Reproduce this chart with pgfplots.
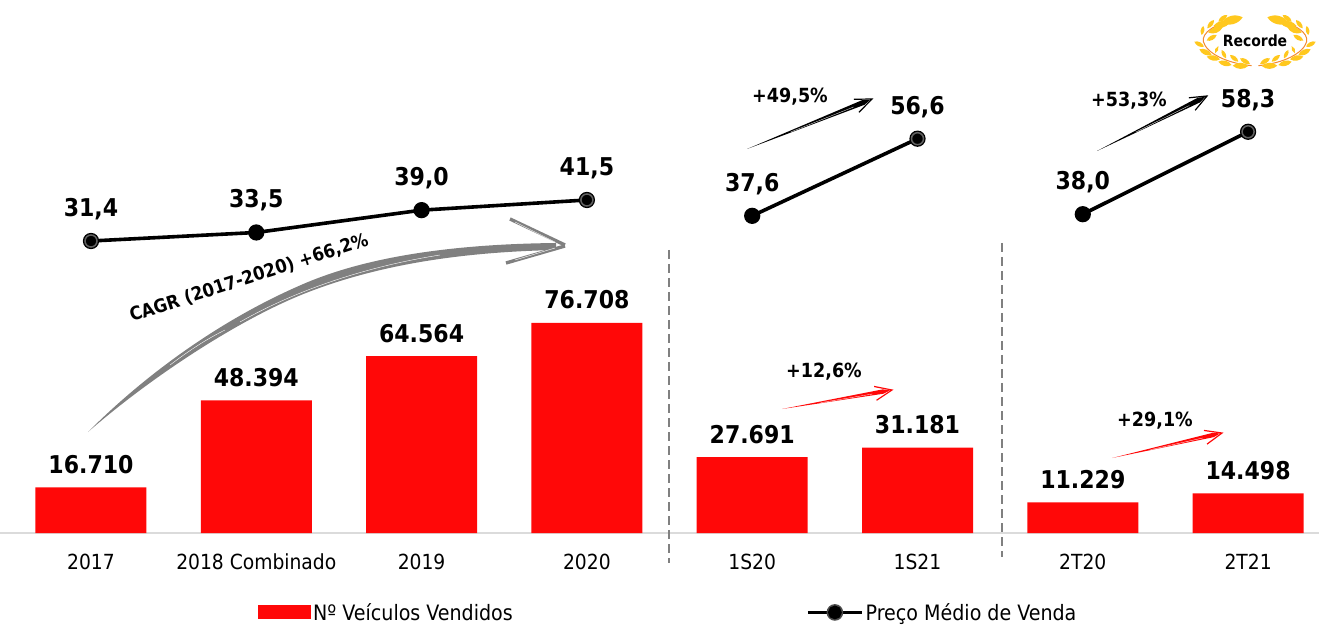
\documentclass[border=0pt]{standalone}
\usepackage{fontspec}
\setmainfont{DejaVu Sans Condensed}
\usepackage{pgfplots}
\pgfplotsset{compat=1.18}
\definecolor{barred}{HTML}{FF0808}
\definecolor{gold}{HTML}{FFC81E}
\definecolor{stem}{HTML}{F28A30}

% thin brush-like arrow, coordinates in reference pixels
\newcommand{\brusharrow}[6]{%
  \pgfmathsetmacro{\ang}{atan2(#3-#5,#4-#2)}%
  \pgfmathsetmacro{\len}{veclen(#4-#2,#5-#3)}%
  \begin{scope}[shift={(#2,#3)},rotate=\ang]
    \fill[#1] (0,0) -- (\len-9,-#6) -- (\len-2,0) -- (\len-9,#6) -- cycle;
    \draw[white,line width=0.3pt] (\len*0.35,0.4) -- (\len-20,0.6);
    \draw[#1,line width=1.2pt] (\len-17,-6.5) -- (\len,0) -- (\len-17,7.5);
  \end{scope}}

\newcommand{\leaf}[4]{\fill[gold] (#1,#2) to[bend left=42] (#3,#4) to[bend left=42] (#1,#2);}
\newcommand{\laurel}{%
  \draw[stem,line width=1pt] (305,197) .. controls (230,190) and (170,160) .. (160,125)
     .. controls (155,100) and (190,70) .. (265,60);
  \leaf{205}{65}{232}{45}\leaf{215}{68}{278}{52}\leaf{172}{85}{192}{60}
  \leaf{190}{78}{240}{68}\leaf{155}{105}{160}{78}\leaf{175}{98}{218}{82}
  \leaf{133}{125}{162}{140}\leaf{170}{122}{200}{105}\leaf{148}{148}{185}{165}
  \leaf{195}{160}{205}{138}\leaf{170}{170}{210}{178}\leaf{215}{150}{228}{175}
  \leaf{205}{185}{245}{195}\leaf{240}{165}{265}{185}\leaf{248}{197}{295}{198}
  \leaf{270}{175}{300}{192}}

\begin{document}
\begin{tikzpicture}
\useasboundingbox (0,-91pt) rectangle (1319pt,533pt);

% sold vehicles, bars
\begin{axis}[
    at={(0,0)},anchor=south west,
    scale only axis,
    width=1319pt,
    height=533pt,
    clip=false,
    ybar,
    bar width=111pt,
    xmin=-0.5505,xmax=7.4289,
    ymin=0,ymax=194668,
    axis x line=bottom,
    axis y line=none,
    x axis line style={draw=black!14,line width=2.2pt,-},
    xtick={0,...,7},
    xticklabels={2017,2018 Combinado,2019,2020,1S20,1S21,2T20,2T21},
    major tick length=0pt,
    xticklabel style={font=\fontsize{20.8}{22}\selectfont,anchor=center,yshift=-29pt},
    point meta=y,
    nodes near coords,
    every node near coord/.append style={font=\fontsize{24.5}{26}\selectfont\bfseries,anchor=center,yshift=23pt,text=black},
    /pgf/number format/.cd,assume math mode=true,fixed,precision=0,1000 sep={.},
    /pgfplots/.cd,
    legend style={at={(0.1956,-0.149)},anchor=west,draw=none,fill=none,inner sep=0pt,
      font=\fontsize{21.2}{23}\selectfont},
    legend image code/.code={\fill[barred] (0pt,-7pt) rectangle (53pt,7pt);},
    legend cell align=left,
]
\addplot[fill=barred,draw=none] coordinates {(0,16710) (1,48394) (2,64564) (3,76708) (4,27691) (5,31181) (6,11229) (7,14498)};
\legend{Nº Veículos Vendidos}
\end{axis}

% average sale price, lines
\begin{axis}[
    at={(0,0)},anchor=south west,
    scale only axis,
    width=1319pt,
    height=533pt,
    clip=false,
    hide axis,
    xmin=-0.5505,xmax=7.4289,
    ymin=-40.52,ymax=90.76,
    point meta=y,
    every node near coord/.append style={font=\fontsize{24.5}{26}\selectfont\bfseries,anchor=center,yshift=32pt,text=black},
    /pgf/number format/.cd,assume math mode=true,fixed,fixed zerofill,precision=1,use comma,
    /pgfplots/.cd,
    legend style={at={(0.611,-0.149)},anchor=west,draw=none,fill=none,inner sep=0pt,
      font=\fontsize{21.2}{23}\selectfont},
    legend image code/.code={
      \draw[black,line width=3.6pt] (0pt,0pt) -- (54pt,0pt);
      \fill[black!70] (27pt,0pt) circle (6.5pt);
      \fill[black] (27pt,0pt) circle (5pt);},
    legend cell align=left,
]
\addplot[black,line width=3.6pt,mark=*,mark size=6.3pt,mark options={fill=black,draw=black},nodes near coords]
  coordinates {(0,31.4) (1,33.5) (2,39.0) (3,41.5)};
\addplot[forget plot,black,line width=3.6pt,mark=*,mark size=6.3pt,mark options={fill=black,draw=black},nodes near coords]
  coordinates {(4,37.6) (5,56.6)};
\addplot[forget plot,black,line width=3.6pt,mark=*,mark size=6.3pt,mark options={fill=black,draw=black},nodes near coords]
  coordinates {(6,38.0) (7,58.3)};
\addplot[forget plot,only marks,mark=*,mark size=6pt,mark options={fill=black,draw=black!62,line width=1.5pt}]
  coordinates {(0,31.4) (3,41.5) (5,56.6) (7,58.3)};
\legend{Preço Médio de Venda}
\end{axis}

% annotations in reference pixels
\begin{scope}[x=1pt,y=-1pt,yshift=533pt]
  \draw[black!50,line width=1.5pt,dash pattern=on 9pt off 5pt] (669,250) -- (669,563);
  \draw[black!50,line width=1.5pt,dash pattern=on 9pt off 5pt] (1002,243) -- (1002,557);

  % gray CAGR arrow
  \fill[black!50] (88,432) .. controls (150,370) and (225,318) .. (301,285)
     .. controls (369,255) and (460,244) .. (556,243)
     -- (556,250) .. controls (460,252) and (375,265) .. (301,295)
     .. controls (235,322) and (150,378) .. cycle;
  \draw[black!50,line width=3.4pt] (510,219) -- (565,245);
  \draw[black!50,line width=3.4pt] (506,263) -- (565,246);
  \draw[white,line width=0.4pt] (240,322) .. controls (300,288) and (370,266) .. (440,255);
  \draw[white,line width=0.4pt] (170,365) .. controls (190,350) and (205,340) .. (225,330);
  \draw[white,line width=0.4pt] (515,222) -- (555,242);
  \draw[white,line width=0.4pt] (515,260) -- (555,248);
  \node[rotate=18,font=\fontsize{18.5}{20}\selectfont\bfseries] at (249,278) {CAGR (2017-2020) +66,2\%};

  % growth arrows
  \brusharrow{black}{747}{149}{872}{99}{2.6}
  \brusharrow{black}{1097}{151}{1207}{96}{2.6}
  \brusharrow{barred}{782}{409}{892}{390}{2.2}
  \brusharrow{barred}{1112}{458}{1222}{433}{2.2}
  \node[font=\fontsize{19.5}{21}\selectfont\bfseries] at (790,97) {+49,5\%};
  \node[font=\fontsize{19.5}{21}\selectfont\bfseries] at (1129,101) {+53,3\%};
  \node[font=\fontsize{19.5}{21}\selectfont\bfseries] at (824,372) {+12,6\%};
  \node[font=\fontsize{19.5}{21}\selectfont\bfseries] at (1155,421) {+29,1\%};

  % record badge
  \begin{scope}[shift={(1150,0)},x=0.3333pt,y=-0.3333pt]\laurel\end{scope}
  \begin{scope}[shift={(1360,0)},x=-0.3333pt,y=-0.3333pt]\laurel\end{scope}
  \node[font=\fontsize{15.5}{17}\selectfont\bfseries] at (1255,41) {Recorde};
\end{scope}
\end{tikzpicture}
\end{document}
